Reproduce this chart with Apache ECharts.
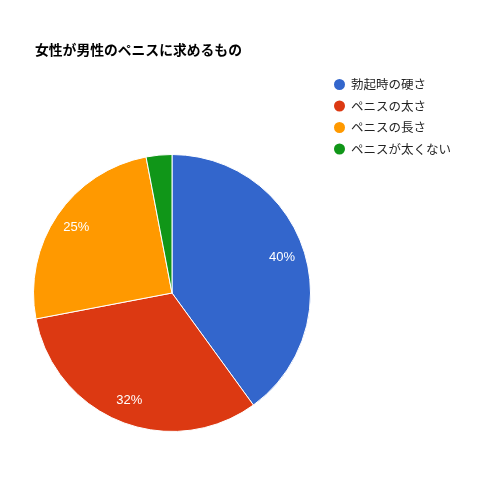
<!DOCTYPE html>
<html><head><meta charset="utf-8">
<script src="https://cdn.jsdelivr.net/npm/echarts@6/dist/echarts.min.js"></script>
<style>html,body{margin:0;padding:0;background:#fff}#c{width:500px;height:500px}</style>
</head><body><div id="c"></div>
<script>
const title = '女性が男性のペニスに求めるもの';
const categories = ['勃起時の硬さ', 'ペニスの太さ', 'ペニスの長さ', 'ペニスが太くない'];
const values = [40, 32, 25, 3];
const colors = ['#3366cc', '#dc3912', '#ff9900', '#109618'];
const font = '"Noto Sans CJK JP", Arial, sans-serif';
const chart = echarts.init(document.getElementById('c'));
const data = categories.map((n, i) => ({ name: n, value: values[i], itemStyle: { color: colors[i] } }));
const R = 138.5;
chart.setOption({
  animation: false,
  title: { text: title, left: 30, top: 38, textStyle: { fontSize: 13.8, fontWeight: 'bold', color: '#000', fontFamily: font } },
  legend: {
    orient: 'vertical', left: 327, top: 72, itemWidth: 13, itemHeight: 13, itemGap: 6.5, icon: 'circle',
    textStyle: { fontSize: 12.5, color: '#222', fontFamily: font },
    data: categories
  },
  series: [{
    type: 'pie', center: [172, 293], radius: [0, R], startAngle: 90, clockwise: true,
    label: { show: false }, labelLine: { show: false },
    itemStyle: { borderColor: '#fff', borderWidth: 1 },
    data: data
  }, {
    type: 'pie', center: [172, 293], radius: [0.6 * R, R + 4], startAngle: 90, clockwise: true, silent: true,
    legendHoverLink: false,
    itemStyle: { color: 'rgba(0,0,0,0)' },
    label: { show: true, position: 'inside', color: '#fff', fontSize: 13, fontFamily: 'Arial, sans-serif',
      formatter: p => p.percent >= 5 ? Math.round(p.percent) + '%' : '' },
    labelLine: { show: false },
    data: categories.map((n, i) => ({ name: n + ' ', value: values[i] }))
  }]
});
</script></body></html>
